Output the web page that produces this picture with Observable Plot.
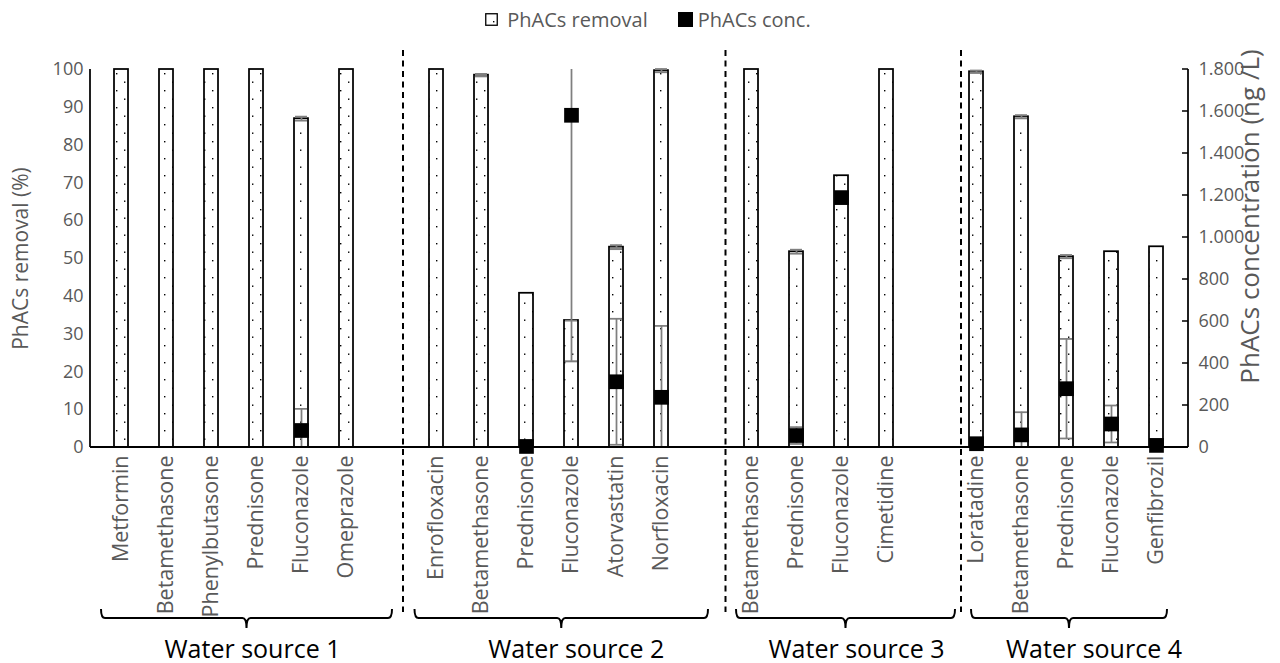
<!DOCTYPE html>
<html>
<head>
<meta charset="utf-8">
<script src="https://cdn.jsdelivr.net/npm/d3@7"></script>
<script src="https://cdn.jsdelivr.net/npm/@observablehq/plot@0.6"></script>
<style>
  html, body { margin: 0; padding: 0; background: #fff; }
  body { font-family: "Open Sans", sans-serif; width: 1280px; height: 663px; overflow: hidden; }
  #legend { height: 36px; box-sizing: border-box; padding-top: 2px; padding-left: 16px;
            display: flex; justify-content: center; align-items: center;
            font-size: 20px; color: #595959; white-space: nowrap; }
  #legend svg { display: block; }
  #chart svg { display: block; }
</style>
</head>
<body>
<div id="legend"></div>
<div id="chart"></div>
<script>
// ---------------- data ----------------
const compounds = [
  "Metformin", "Betamethasone", "Phenylbutasone", "Prednisone", "Fluconazole", "Omeprazole",
  "Enrofloxacin", "Betamethasone", "Prednisone", "Fluconazole", "Atorvastatin", "Norfloxacin",
  "Betamethasone", "Prednisone", "Fluconazole", "Cimetidine",
  "Loratadine", "Betamethasone", "Prednisone", "Fluconazole", "Genfibrozil"
];
const sourceOf = [1,1,1,1,1,1, 2,2,2,2,2,2, 3,3,3,3, 4,4,4,4,4];
const sourceLabels = ["Water source 1", "Water source 2", "Water source 3", "Water source 4"];
// PhACs removal (%)
const removal = [100, 100, 100, 100, 87, 100,
                 100, 98.5, 40.8, 33.6, 53.0, 99.7,
                 100, 51.8, 71.9, 100,
                 99.4, 87.5, 50.5, 51.8, 53.1];
const removalErrMinus = [0, 0, 0, 0, 0.5, 0,
                         0, 0.3, 0, 10.8, 0.5, 0.4,
                         0, 0.5, 0, 0,
                         0.3, 0.4, 0.4, 0, 0];
const removalErrPlus = [0, 0, 0, 0, 0.5, 0,
                        0, 0.3, 0, 0, 0.5, 0.4,
                        0, 0.5, 0, 0,
                        0.3, 0.4, 0.4, 0, 0];
// PhACs concentration (ng/L)
const conc = [null, null, null, null, 81, null,
              null, null, 5, 1582, 313, 239,
              null, 57, 1190, null,
              18, 60, 280, 112, 10];
const concErr = [0, 0, 0, 0, 103, 0,
                 0, 0, 0, 978, 300, 340,
                 0, 40, 0, 0,
                 0, 108, 237, 88, 0];
const removalTicks = [0, 10, 20, 30, 40, 50, 60, 70, 80, 90, 100];
const concTicks = [0, 200, 400, 600, 800, 1000, 1200, 1400, 1600, 1800];
const leftTitle = "PhACs removal (%)";
const rightTitle = "PhACs concentration (ng /L)";
const legendLabels = ["PhACs removal", "PhACs conc."];

// ---------------- styles (no data) ----------------
const GREY_TEXT = "#595959";
const ERR = "#7f7f7f";
const separatorDx = [11.5, 19, 29.5];
const bracketEnds = [[-20, 46], [-21.5, 47], [-15, 69], [-5, 11]];
const bracketTextDx = [6, 15, 11, 25];

// ---------------- build table ----------------
const concMax = concTicks[concTicks.length - 1];
const removalMax = removalTicks[removalTicks.length - 1];
const toLeft = c => c * removalMax / concMax;
const nSources = sourceLabels.length;
const rows = compounds.map((name, i) => ({
  key: sourceOf[i] + "|" + name,
  name, source: sourceOf[i],
  removal: removal[i], rLo: removal[i] - removalErrMinus[i], rHi: removal[i] + removalErrPlus[i],
  hasRErr: removalErrMinus[i] > 0 || removalErrPlus[i] > 0,
  conc: conc[i], cErr: concErr[i]
}));
const domain = [];
const gapKeys = [];
for (let s = 1; s <= nSources; s++) {
  rows.filter(r => r.source === s).forEach(r => domain.push(r.key));
  if (s < nSources) { domain.push("gap|" + s); gapKeys.push("gap|" + s); }
}
const nameOf = new Map(rows.map(r => [r.key, r.name]));
const concRows = rows.filter(r => r.conc != null);
const concErrRows = concRows.filter(r => r.cErr > 0).map(r => ({
  key: r.key,
  lo: Math.max(0, r.conc - r.cErr), hi: Math.min(concMax, r.conc + r.cErr),
  loIn: r.conc - r.cErr >= 0, hiIn: r.conc + r.cErr <= concMax
}));
const rErrRows = rows.filter(r => r.hasRErr);

const numFmt = d3.formatLocale({decimal: ",", thousands: ".", grouping: [3], currency: ["", ""]}).format(",d");

// ---------------- decorations (axis lines, brackets) ----------------
function frameLines(index, scales, values, dim) {
  const y = scales.y;
  const L = dim.marginLeft, R = dim.width - dim.marginRight;
  const T = dim.marginTop, B = dim.height - dim.marginBottom;
  const g = d3.create("svg:g").attr("stroke", "#000").attr("fill", "none");
  g.append("line").attr("x1", L).attr("x2", L).attr("y1", T).attr("y2", B).attr("stroke-width", 1.75);
  g.append("line").attr("x1", R).attr("x2", R).attr("y1", T).attr("y2", B).attr("stroke-width", 1.75);
  g.append("line").attr("x1", L).attr("x2", R).attr("y1", B).attr("y2", B).attr("stroke-width", 2);
  for (const c of concTicks) {
    const yy = y(toLeft(c));
    g.append("line").attr("x1", R - 6).attr("x2", R).attr("y1", yy).attr("y2", yy).attr("stroke-width", 1.5);
  }
  return g.node();
}

function brackets(index, scales, values, dim) {
  const x = scales.x;
  const bw = typeof x.bandwidth === "function" ? x.bandwidth() : 0;
  const cx = k => x(k) + bw / 2;
  const H = dim.height;
  const yH = H - 45, yTip = H - 54, yTail = H - 35, yText = H - 5;
  const g = d3.create("svg:g");
  for (let s = 1; s <= nSources; s++) {
    const keys = rows.filter(r => r.source === s).map(r => r.key);
    const l = cx(keys[0]) + bracketEnds[s - 1][0];
    const r = cx(keys[keys.length - 1]) + bracketEnds[s - 1][1];
    const m = (l + r) / 2;
    g.append("path")
      .attr("d", `M${l},${yTip} Q${l},${yH} ${l + 4},${yH} L${m - 4},${yH} Q${m},${yH} ${m},${yTail} Q${m},${yH} ${m + 4},${yH} L${r - 4},${yH} Q${r},${yH} ${r},${yTip}`)
      .attr("fill", "none").attr("stroke", "#000").attr("stroke-width", 2);
    g.append("text")
      .attr("x", m + bracketTextDx[s - 1]).attr("y", yText)
      .attr("text-anchor", "middle").attr("fill", "#000")
      .attr("font-size", 25).attr("font-family", "Open Sans, sans-serif")
      .text(sourceLabels[s - 1]);
  }
  return g.node();
}

// ---------------- plot ----------------
const plot = Plot.plot({
  width: 1280,
  height: 627,
  marginTop: 33,
  marginBottom: 216,
  marginLeft: 90,
  marginRight: 92,
  style: {fontFamily: "Open Sans, sans-serif", fontSize: "18px", color: GREY_TEXT, background: "#fff", overflow: "visible"},
  x: {domain, paddingInner: 0.679, paddingOuter: 0.3395},
  y: {domain: [0, removalMax]},
  marks: [
    // separators
    ...gapKeys.map((k, i) => Plot.ruleX([k], {x: d => d, dx: separatorDx[i], stroke: "#000", strokeWidth: 2,
      strokeDasharray: "6,4.5", insetTop: -19, insetBottom: -165})),
    // removal bars
    Plot.barY(rows, {x: "key", y: "removal", fill: "url(#dots)", stroke: "#000", strokeWidth: 1.75}),
    // removal error bars
    Plot.ruleX(rErrRows, {x: "key", y1: "rLo", y2: "rHi", stroke: ERR, strokeWidth: 1.75}),
    Plot.tickY(rErrRows, {x: "key", y: "rLo", stroke: ERR, strokeWidth: 2, insetLeft: 1, insetRight: 1}),
    Plot.tickY(rErrRows.filter(r => r.rHi > r.removal), {x: "key", y: "rHi", stroke: ERR, strokeWidth: 2, insetLeft: 1, insetRight: 1}),
    // concentration error bars
    Plot.ruleX(concErrRows, {x: "key", y1: d => toLeft(d.lo), y2: d => toLeft(d.hi), stroke: ERR, strokeWidth: 1.75}),
    Plot.tickY(concErrRows.filter(d => d.loIn), {x: "key", y: d => toLeft(d.lo), stroke: ERR, strokeWidth: 1.75, insetLeft: 1, insetRight: 1}),
    Plot.tickY(concErrRows.filter(d => d.hiIn), {x: "key", y: d => toLeft(d.hi), stroke: ERR, strokeWidth: 1.75, insetLeft: 1, insetRight: 1}),
    // frame lines
    frameLines,
    // concentration markers
    Plot.dot(concRows, {x: "key", y: d => toLeft(d.conc), symbol: "square", r: 8.3, fill: "#000", stroke: "none"}),
    // axes
    Plot.axisX({tickRotate: -90, tickSize: 0, tickPadding: 8, fontSize: 21.5, tickFormat: k => nameOf.get(k) ?? "", label: null}),
    Plot.axisY({ticks: removalTicks, tickSize: 0, tickPadding: 7, fontSize: 18, label: null, tickFormat: d => String(d)}),
    Plot.axisY({anchor: "right", ticks: concTicks.map(toLeft), tickSize: 0, tickPadding: 10, fontSize: 18, label: null,
      tickFormat: v => numFmt(Math.round(v * concMax / removalMax))}),
    // axis titles
    Plot.text([leftTitle], {text: d => d, frameAnchor: "left", textAnchor: "middle", rotate: -90, dx: -69, fontSize: 21, fill: GREY_TEXT}),
    Plot.text([rightTitle], {text: d => d, frameAnchor: "right", textAnchor: "middle", rotate: -90, dx: 62, dy: -42, fontSize: 26, fill: GREY_TEXT}),
    // brackets & group labels
    brackets
  ]
});

// pattern fill for the removal bars
const svg = d3.select(plot);
const defs = svg.insert("defs", ":first-child");
const pat = defs.append("pattern").attr("id", "dots").attr("width", 16).attr("height", 17).attr("patternUnits", "userSpaceOnUse");
pat.append("rect").attr("width", 16).attr("height", 17).attr("fill", "#fff");
pat.append("rect").attr("x", 4).attr("y", 3).attr("width", 1.4).attr("height", 1.4).attr("fill", "#000");
pat.append("rect").attr("x", 12).attr("y", 11.5).attr("width", 1.4).attr("height", 1.4).attr("fill", "#000");
document.getElementById("chart").appendChild(plot);

// ---------------- legend ----------------
const legend = d3.select("#legend");
const sw1 = legend.append("svg").attr("width", 13).attr("height", 13);
sw1.append("rect").attr("x", 0.75).attr("y", 0.75).attr("width", 11.5).attr("height", 11.5).attr("fill", "#fff").attr("stroke", "#000").attr("stroke-width", 1.3);
sw1.append("rect").attr("x", 8).attr("y", 8).attr("width", 1.4).attr("height", 1.4).attr("fill", "#000");
legend.append("span").style("margin-left", "9px").text(legendLabels[0]);
const sw2 = legend.append("svg").attr("width", 15).attr("height", 15).style("margin-left", "30px");
sw2.append("rect").attr("width", 15).attr("height", 15).attr("fill", "#000");
legend.append("span").style("margin-left", "5px").text(legendLabels[1]);
</script>
</body>
</html>
